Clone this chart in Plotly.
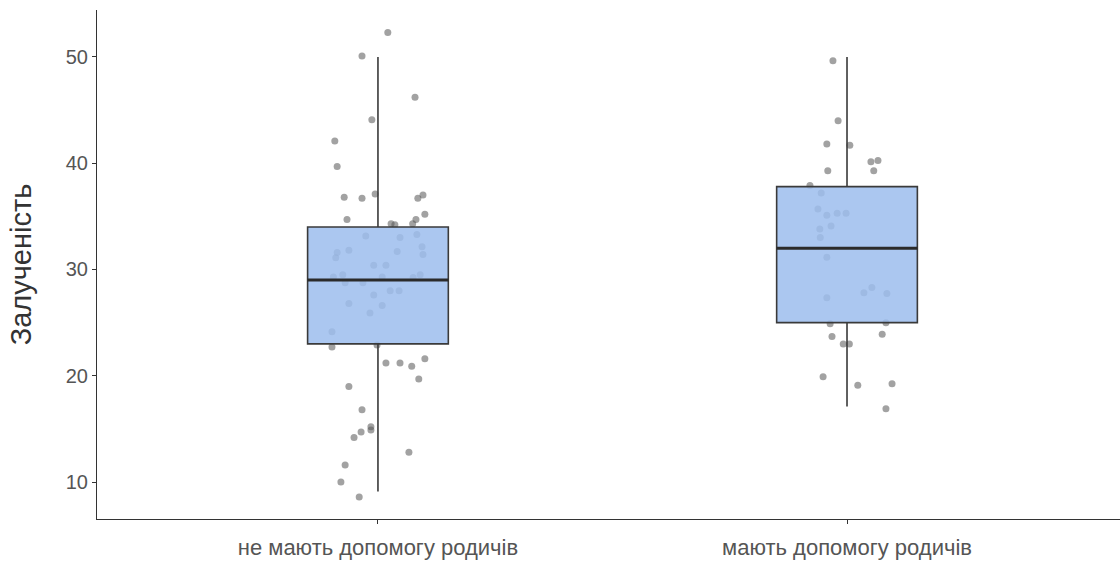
import plotly.graph_objects as go

categories = ["не мають допомогу родичів", "мають допомогу родичів"]
positions = [0, 1]

# box statistics
q1 = [23.0, 25.0]
median = [29.0, 32.0]
q3 = [34.0, 37.8]
lower_whisker = [9.1, 17.1]
upper_whisker = [50.0, 50.0]

# jittered observations: values and horizontal jitter (category units)
left_values = [52.3, 50.1, 46.2, 44.1, 42.1, 39.7, 36.8, 36.7, 37.1, 36.7, 37.0, 35.2,
               34.7, 34.7, 34.3, 34.2, 34.3, 33.15, 33.0, 33.3, 31.8, 31.6, 31.1, 31.7,
               32.15, 31.4, 30.4, 30.4, 29.3, 29.5, 28.75, 28.75, 29.3, 29.25, 29.5, 27.6,
               28.0, 28.0, 26.8, 26.6, 25.9, 24.15, 22.7, 22.9, 21.2, 21.2, 20.9, 21.6,
               19.7, 19.0, 16.8, 15.2, 14.9, 14.7, 14.2, 12.8, 11.6, 10.0, 8.6]
left_jitter = [0.021, -0.034, 0.079, -0.013, -0.092, -0.087, -0.072, -0.034, -0.006, 0.085,
               0.096, 0.100, -0.066, 0.081, 0.028, 0.036, 0.074, -0.026, 0.047, 0.083,
               -0.062, -0.087, -0.090, 0.041, 0.094, 0.096, -0.009, 0.017, -0.095, -0.075,
               -0.070, -0.032, 0.009, 0.075, 0.090, -0.009, 0.026, 0.045, -0.062, 0.009,
               -0.017, -0.098, -0.098, -0.002, 0.017, 0.047, 0.072, 0.100, 0.087, -0.062,
               -0.034, -0.015, -0.015, -0.036, -0.051, 0.066, -0.070, -0.079, -0.040]
right_values = [49.65, 44.0, 41.8, 41.7, 40.15, 40.25, 39.3, 39.3, 37.9, 37.2,
                35.7, 35.1, 35.3, 35.3, 34.1, 33.8, 33.0, 31.15, 27.35, 27.8, 28.3, 27.75,
                24.9, 25.0, 23.7, 23.9, 23.0, 23.0, 19.9, 19.1, 19.25, 16.9]
right_jitter = [-0.030, -0.019, -0.043, 0.006, 0.051, 0.066, -0.041, 0.057, -0.079, -0.055,
                -0.062, -0.043, -0.021, -0.002, -0.034, -0.058, -0.057, -0.043, -0.043, 0.036,
                0.053, 0.085, -0.036, 0.083, -0.032, 0.075, -0.008, 0.005, -0.051, 0.023,
                0.096, 0.083]

box_width = 0.3
y_range = [6.52, 54.42]
x_range = [-0.599, 1.582]

fig = go.Figure()

# points on base axes (drawn underneath)
pts_x = [positions[0] + j for j in left_jitter] + [positions[1] + j for j in right_jitter]
pts_y = left_values + right_values
fig.add_trace(go.Scatter(
    x=pts_x, y=pts_y, mode="markers",
    marker=dict(size=7, color="rgba(85,85,85,0.55)", line=dict(width=0)),
    showlegend=False, hoverinfo="y", xaxis="x", yaxis="y"))

# boxes on overlay axes (drawn on top, semi-transparent fill)
fig.add_trace(go.Box(
    x=positions, q1=q1, median=median, q3=q3,
    lowerfence=lower_whisker, upperfence=upper_whisker,
    width=box_width, whiskerwidth=0,
    fillcolor="rgba(157,190,238,0.86)",
    line=dict(color="#3a3a3a", width=1.6),
    boxpoints=False, showlegend=False,
    xaxis="x2", yaxis="y2"))

# thick median lines
for p, m in zip(positions, median):
    fig.add_trace(go.Scatter(
        x=[p - box_width / 2, p + box_width / 2], y=[m, m], mode="lines",
        line=dict(color="#2b2b2b", width=3), showlegend=False, hoverinfo="skip",
        xaxis="x2", yaxis="y2"))

font_family = "Liberation Sans, Arial, sans-serif"
fig.update_layout(
    width=1120, height=561,
    margin=dict(l=97, r=0, t=10, b=42),
    plot_bgcolor="white", paper_bgcolor="white",
    font=dict(family=font_family, color="#4d4d4d", size=20),
    xaxis=dict(range=x_range, tickvals=positions, ticktext=categories,
               showline=True, linecolor="#333333", linewidth=1.2,
               ticks="outside", ticklen=4, tickcolor="#333333", tickwidth=1.2,
               showgrid=False, zeroline=False, automargin=False,
               ticklabelstandoff=4,
               tickfont=dict(size=22, color="#555555")),
    yaxis=dict(range=y_range, tickvals=[10, 20, 30, 40, 50],
               showline=True, linecolor="#333333", linewidth=1.2,
               ticks="outside", ticklen=4, tickcolor="#333333", tickwidth=1.2,
               showgrid=False, zeroline=False, automargin=False,
               tickfont=dict(size=20, color="#555555"),
               title=dict(text="Залученість", font=dict(size=29, color="#333333"),
                          standoff=25)),
    xaxis2=dict(range=x_range, overlaying="x", visible=False),
    yaxis2=dict(range=y_range, overlaying="y", visible=False),
)

fig.write_html("out.html")
